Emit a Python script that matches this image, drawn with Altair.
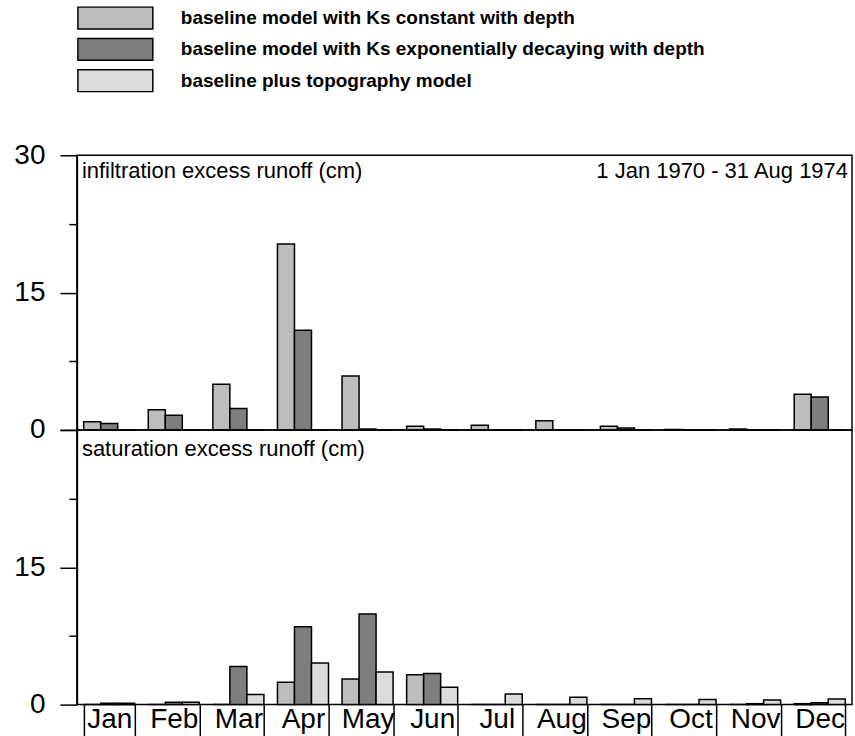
import altair as alt
import pandas as pd

# Months on the x axis
months = ["Jan", "Feb", "Mar", "Apr", "May", "Jun",
          "Jul", "Aug", "Sep", "Oct", "Nov", "Dec"]

# Model runs being compared
series = [
    "baseline model with Ks constant with depth",
    "baseline model with Ks exponentially decaying with depth",
    "baseline plus topography model",
]
series_fill = ["#bdbdbd", "#7e7e7e", "#dcdcdc"]

# Infiltration excess runoff (cm), per month
infil_const = [0.9, 2.2, 5.0, 20.3, 5.9, 0.4, 0.5, 1.0, 0.4, 0.05, 0.1, 3.9]
infil_exp = [0.7, 1.6, 2.35, 10.9, 0.1, 0.1, 0.0, 0.0, 0.2, 0.0, 0.0, 3.6]
infil_topo = [0.0, 0.0, 0.0, 0.0, 0.0, 0.0, 0.0, 0.0, 0.0, 0.0, 0.0, 0.0]

# Saturation excess runoff (cm), per month
sat_const = [0.0, 0.0, 0.0, 2.45, 2.8, 3.25, 0.0, 0.0, 0.0, 0.0, 0.0, 0.1]
sat_exp = [0.15, 0.25, 4.15, 8.5, 9.9, 3.4, 0.0, 0.0, 0.0, 0.0, 0.1, 0.2]
sat_topo = [0.15, 0.25, 1.1, 4.55, 3.55, 1.9, 1.15, 0.8, 0.65, 0.55, 0.5, 0.6]

FONT = "Liberation Sans"
W, H = 776, 275


def long_table(columns):
    rows = []
    for name, vals in zip(series, columns):
        for m, v in zip(months, vals):
            rows.append({"month": m, "series": name, "runoff": v})
    return pd.DataFrame(rows)


fill_scale = alt.Scale(domain=series, range=series_fill)
minor_tick = alt.condition("datum.value % 15 != 0", alt.value(8), alt.value(17))


def panel(columns, title_left, title_right, title_y, label_test, show_months):
    x_axis = None
    if show_months:
        x_axis = alt.Axis(title=None, tickBand="extent", tickSize=33,
                          labelPadding=-32, labelFontSize=28, labelAngle=0,
                          domain=False, tickWidth=1.5)
    bars = alt.Chart(long_table(columns)).mark_bar(
        stroke="black", strokeWidth=1.5
    ).encode(
        x=alt.X("month:N", sort=months, axis=x_axis,
                scale=alt.Scale(paddingInner=0.21, paddingOuter=0.105)),
        xOffset=alt.XOffset("series:N", sort=series,
                            scale=alt.Scale(paddingInner=0, paddingOuter=0)),
        y=alt.Y("runoff:Q",
                scale=alt.Scale(domain=[0, 30], nice=False, zero=True),
                axis=alt.Axis(values=[0, 7.5, 15, 22.5, 30], title=None,
                              tickSize=minor_tick, labelPadding=15,
                              labelExpr=label_test, labelOverlap=False,
                              labelFlush=False, labelFontSize=28,
                              grid=False, tickWidth=1.5, domainWidth=1.5)),
        fill=alt.Fill("series:N", scale=fill_scale, legend=None),
    )
    titles = pd.DataFrame({"left": [title_left], "right": [title_right]})
    left_text = alt.Chart(titles).mark_text(
        align="left", baseline="middle", font=FONT, fontSize=22, color="black"
    ).encode(x=alt.value(5), y=alt.value(title_y), text="left:N")
    layers = [bars, left_text]
    if title_right:
        right_text = alt.Chart(titles).mark_text(
            align="right", baseline="middle", font=FONT, fontSize=22,
            color="black"
        ).encode(x=alt.value(W - 4), y=alt.value(title_y), text="right:N")
        layers.append(right_text)
    return alt.layer(*layers).properties(width=W, height=H)


top = panel([infil_const, infil_exp, infil_topo],
            "infiltration excess runoff (cm)", "1 Jan 1970 - 31 Aug 1974", 16,
            "datum.value % 15 == 0 ? datum.label : ''", False)
bottom = panel([sat_const, sat_exp, sat_topo],
               "saturation excess runoff (cm)", "", 19,
               "(datum.value == 0 || datum.value == 15) ? datum.label : ''",
               True)

# Key: one swatch per model run
legend_df = pd.DataFrame({"series": series})
key_y = alt.Y("series:N", sort=series, axis=None,
              scale=alt.Scale(paddingInner=0.3, paddingOuter=0.15))
swatches = alt.Chart(legend_df).mark_rect(
    stroke="black", strokeWidth=1.5
).encode(
    y=key_y, x=alt.value(1), x2=alt.value(76),
    fill=alt.Fill("series:N", scale=fill_scale, legend=None),
)
key_text = alt.Chart(legend_df).mark_text(
    align="left", baseline="middle", font=FONT, fontSize=19,
    fontWeight="bold", color="black"
).encode(y=key_y, x=alt.value(104), text="series:N")
key = alt.layer(swatches, key_text).properties(
    width=W, height=94, view=alt.ViewBackground(stroke="transparent")
)

panels = alt.vconcat(top, bottom, spacing=0, bounds="flush")

chart = alt.vconcat(key, panels, spacing=43).properties(
    padding={"left": 13, "top": 1, "right": 2, "bottom": 0}
).configure_view(
    stroke="black", strokeWidth=1.5
).configure_axis(
    labelFont=FONT, labelColor="black", tickColor="black",
    domainColor="black"
)

chart.save("out.html", embed_options={"renderer": "svg", "actions": False})
